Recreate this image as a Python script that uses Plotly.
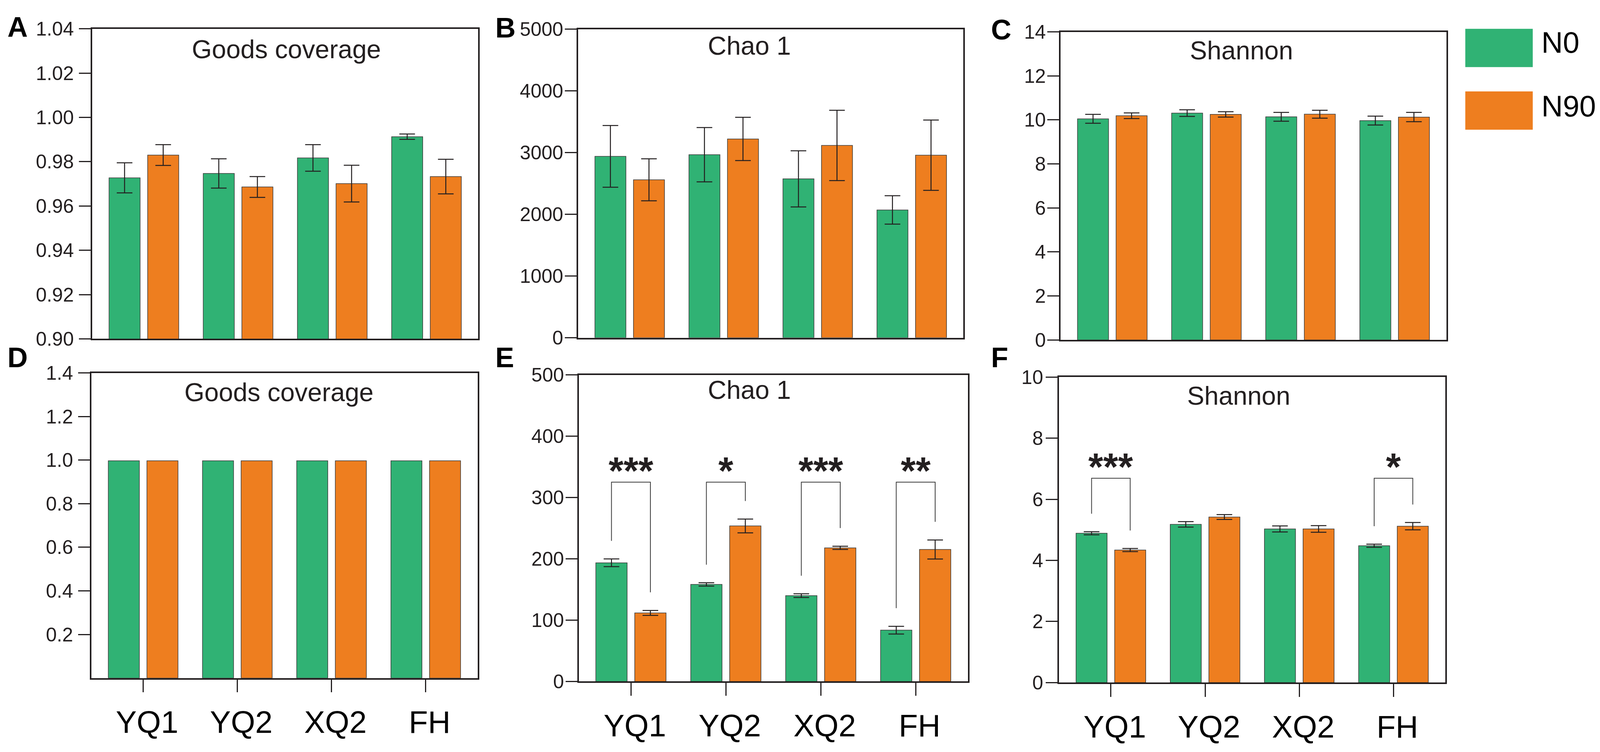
import plotly.graph_objects as go

W, H = 4316, 1925
# the page body keeps an 8px margin round the figure; the width is left to the
# page (autosize) and every reference pixel is turned into a paper fraction
PAD = 8
FW, FH = W - 2 * PAD, H - 2 * PAD

sites = ["YQ1", "YQ2", "XQ2", "FH"]
groups = ["N0", "N90"]

# top row (A-C)
goods_a_n0 = [0.9727, 0.9747, 0.9817, 0.9913]
goods_a_n0_err = [0.0068, 0.0066, 0.0060, 0.0012]
goods_a_n90 = [0.9830, 0.9686, 0.9701, 0.9733]
goods_a_n90_err = [0.0047, 0.0047, 0.0083, 0.0078]

chao_b_n0 = [2940, 2966, 2575, 2071]
chao_b_n0_err = [500, 440, 455, 230]
chao_b_n90 = [2560, 3222, 3117, 2959]
chao_b_n90_err = [340, 350, 570, 570]

shannon_c_n0 = [10.05, 10.31, 10.14, 9.97]
shannon_c_n0_err = [0.20, 0.15, 0.20, 0.20]
shannon_c_n90 = [10.19, 10.25, 10.26, 10.13]
shannon_c_n90_err = [0.13, 0.12, 0.18, 0.21]

# bottom row (D-F)
goods_d_n0 = [0.997, 0.997, 0.997, 0.997]
goods_d_n90 = [0.997, 0.997, 0.997, 0.997]

chao_e_n0 = [193.5, 158.2, 139.9, 83.7]
chao_e_n0_err = [6.3, 2.7, 3.0, 6.3]
chao_e_n90 = [111.8, 253.6, 217.9, 215.2]
chao_e_n90_err = [4.0, 11.2, 2.7, 15.6]
chao_e_sig = ["***", "*", "***", "**"]

shannon_f_n0 = [4.89, 5.18, 5.03, 4.48]
shannon_f_n0_err = [0.05, 0.09, 0.10, 0.05]
shannon_f_n90 = [4.34, 5.42, 5.03, 5.12]
shannon_f_n90_err = [0.05, 0.08, 0.11, 0.12]
shannon_f_sig = ["***", "", "", "*"]

GREEN = "#30B274"
ORANGE = "#EE7E1F"
INK = "#231F20"
FONT = "Liberation Sans, Arial, sans-serif"


def px_x(p):
    return (p - PAD) / FW


def px_y(p):
    return 1 - (p - PAD) / FH


panels = [
    dict(n="", letter="A", lx=18, ly=42, box=(248, 1290, 47, 865), rng=[0.90, 1.04],
         tv=[0.90, 0.92, 0.94, 0.96, 0.98, 1.00, 1.02, 1.04], fmt="{:.2f}", so=3,
         title="Goods coverage", tx=772, ty=101, bottom=False,
         n0=goods_a_n0, e0=goods_a_n0_err, n90=goods_a_n90, e90=goods_a_n90_err),
    dict(n="2", letter="B", lx=1334, ly=44, box=(1559, 2599, 48, 862), rng=[0, 5000],
         tv=[0, 1000, 2000, 3000, 4000, 5000], fmt="{:.0f}", so=-6,
         title="Chao 1", tx=2022, ty=92, bottom=False,
         n0=chao_b_n0, e0=chao_b_n0_err, n90=chao_b_n90, e90=chao_b_n90_err),
    dict(n="3", letter="C", lx=2671, ly=49, box=(2861, 3902, 55, 868), rng=[0, 14],
         tv=[0, 2, 4, 6, 8, 10, 12, 14], fmt="{:.0f}", so=-6,
         title="Shannon", tx=3349, ty=104, bottom=False,
         n0=shannon_c_n0, e0=shannon_c_n0_err, n90=shannon_c_n90, e90=shannon_c_n90_err),
    dict(n="4", letter="D", lx=18, ly=914, box=(246, 1288, 955, 1760), rng=[0, 1.4],
         tv=[0.2, 0.4, 0.6, 0.8, 1.0, 1.2, 1.4], fmt="{:.1f}", so=3,
         title="Goods coverage", tx=752, ty=1006, bottom=True,
         n0=goods_d_n0, e0=None, n90=goods_d_n90, e90=None),
    dict(n="5", letter="E", lx=1334, ly=914, box=(1561, 2611, 960, 1769), rng=[0, 500],
         tv=[0, 100, 200, 300, 400, 500], fmt="{:.0f}", so=-6,
         title="Chao 1", tx=2022, ty=1000, bottom=True,
         n0=chao_e_n0, e0=chao_e_n0_err, n90=chao_e_n90, e90=chao_e_n90_err,
         sig=chao_e_sig, top=325, star=359, gap=29.5),
    dict(n="6", letter="F", lx=2671, ly=914, box=(2857, 3899, 966, 1772), rng=[0, 10],
         tv=[0, 2, 4, 6, 8, 10], fmt="{:.0f}", so=-3,
         title="Shannon", tx=3342, ty=1015, bottom=True,
         n0=shannon_f_n0, e0=shannon_f_n0_err, n90=shannon_f_n90, e90=shannon_f_n90_err,
         sig=shannon_f_sig, top=6.69, star=7.37, gap=0.59),
]

BAR_W = 0.33
OFF_N0 = -0.37
OFF_N90 = 0.04
C_N0 = OFF_N0 + BAR_W / 2
C_N90 = OFF_N90 + BAR_W / 2

fig = go.Figure()
annotations = []
xpos = list(range(len(sites)))

for p in panels:
    xa, ya = "x" + p["n"], "y" + p["n"]
    for vals, errs, off, col, name in [(p["n0"], p["e0"], OFF_N0, GREEN, groups[0]),
                                         (p["n90"], p["e90"], OFF_N90, ORANGE, groups[1])]:
        err = None
        if errs is not None:
            err = dict(type="data", array=errs, color=INK, thickness=2.5, width=20)
        fig.add_trace(go.Bar(
            x=xpos, y=vals, width=BAR_W, offset=off, name=name,
            marker=dict(color=col, line=dict(color="#3a3a3a", width=1.5)),
            error_y=err, xaxis=xa, yaxis=ya, showlegend=False))

    # significance brackets
    if "sig" in p:
        for i, s in enumerate(p["sig"]):
            if not s:
                continue
            left = p["n0"][i] + p["e0"][i] + p["gap"]
            right = p["n90"][i] + p["e90"][i] + p["gap"]
            fig.add_trace(go.Scatter(
                x=[i + C_N0, i + C_N0, i + C_N90, i + C_N90],
                y=[left, p["top"], p["top"], right],
                mode="lines", line=dict(color="#3a3a3a", width=2),
                xaxis=xa, yaxis=ya, showlegend=False, hoverinfo="skip"))
            annotations.append(dict(
                x=i, y=p["star"], xref=xa, yref=ya, text="<b>" + s + "</b>",
                showarrow=False, yanchor="middle", yshift=-24,
                font=dict(family=FONT, size=98, color=INK)))

    x0, x1, y0, y1 = p["box"]
    xkey = "xaxis" + p["n"]
    ykey = "yaxis" + p["n"]
    xaxis = dict(domain=[px_x(x0), px_x(x1)], range=[-0.55, 3.55], anchor=ya,
                 showline=True, mirror=True, linecolor=INK, linewidth=3.5,
                 showgrid=False, zeroline=False)
    if p["bottom"]:
        xaxis.update(tickmode="array", tickvals=xpos, ticktext=sites, ticks="outside",
                     ticklen=33, tickwidth=3, tickcolor=INK,
                     tickfont=dict(family=FONT, size=80, color="#000"),
                     ticklabelstandoff=8, ticklabelshift=10)
    else:
        xaxis.update(showticklabels=False, ticks="")
    yaxis = dict(domain=[px_y(y1), px_y(y0)], range=p["rng"], anchor=xa,
                 showline=True, mirror=True, linecolor=INK, linewidth=3.5,
                 showgrid=False, zeroline=False, tickmode="array", tickvals=p["tv"],
                 ticktext=[p["fmt"].format(v) for v in p["tv"]],
                 ticks="outside", ticklen=30, tickwidth=3, tickcolor=INK,
                 tickfont=dict(family=FONT, size=50, color=INK),
                 ticklabelstandoff=p["so"])
    fig.update_layout({xkey: xaxis, ykey: yaxis})

    annotations.append(dict(x=px_x(p["tx"]), y=px_y(p["ty"]), xref="paper", yref="paper",
                            text=p["title"], showarrow=False, xanchor="center",
                            yanchor="middle", font=dict(family=FONT, size=66, color=INK)))
    annotations.append(dict(x=px_x(p["lx"]), y=px_y(p["ly"]), xref="paper", yref="paper",
                            text="<b>" + p["letter"] + "</b>", showarrow=False,
                            xanchor="left", yanchor="middle",
                            font=dict(family=FONT, size=72, color="#000")))

# legend swatches
shapes = []
for (ytop, ybot), col, name, ty in [((47, 148), GREEN, groups[0], 83),
                                     ((212, 313), ORANGE, groups[1], 251)]:
    shapes.append(dict(type="rect", xref="paper", yref="paper",
                       x0=px_x(3953), x1=px_x(4135), y0=px_y(ybot), y1=px_y(ytop),
                       fillcolor=col, line=dict(width=0)))
    annotations.append(dict(x=px_x(4156), y=px_y(ty), xref="paper", yref="paper",
                            text=name, showarrow=False, xanchor="left", yanchor="middle",
                            font=dict(family=FONT, size=76, color="#000")))

fig.update_layout(autosize=True, height=FH, margin=dict(l=0, r=0, t=0, b=0),
                  paper_bgcolor="white", plot_bgcolor="white", barmode="overlay",
                  annotations=annotations, shapes=shapes, showlegend=False)

fig.write_html("out.html")
